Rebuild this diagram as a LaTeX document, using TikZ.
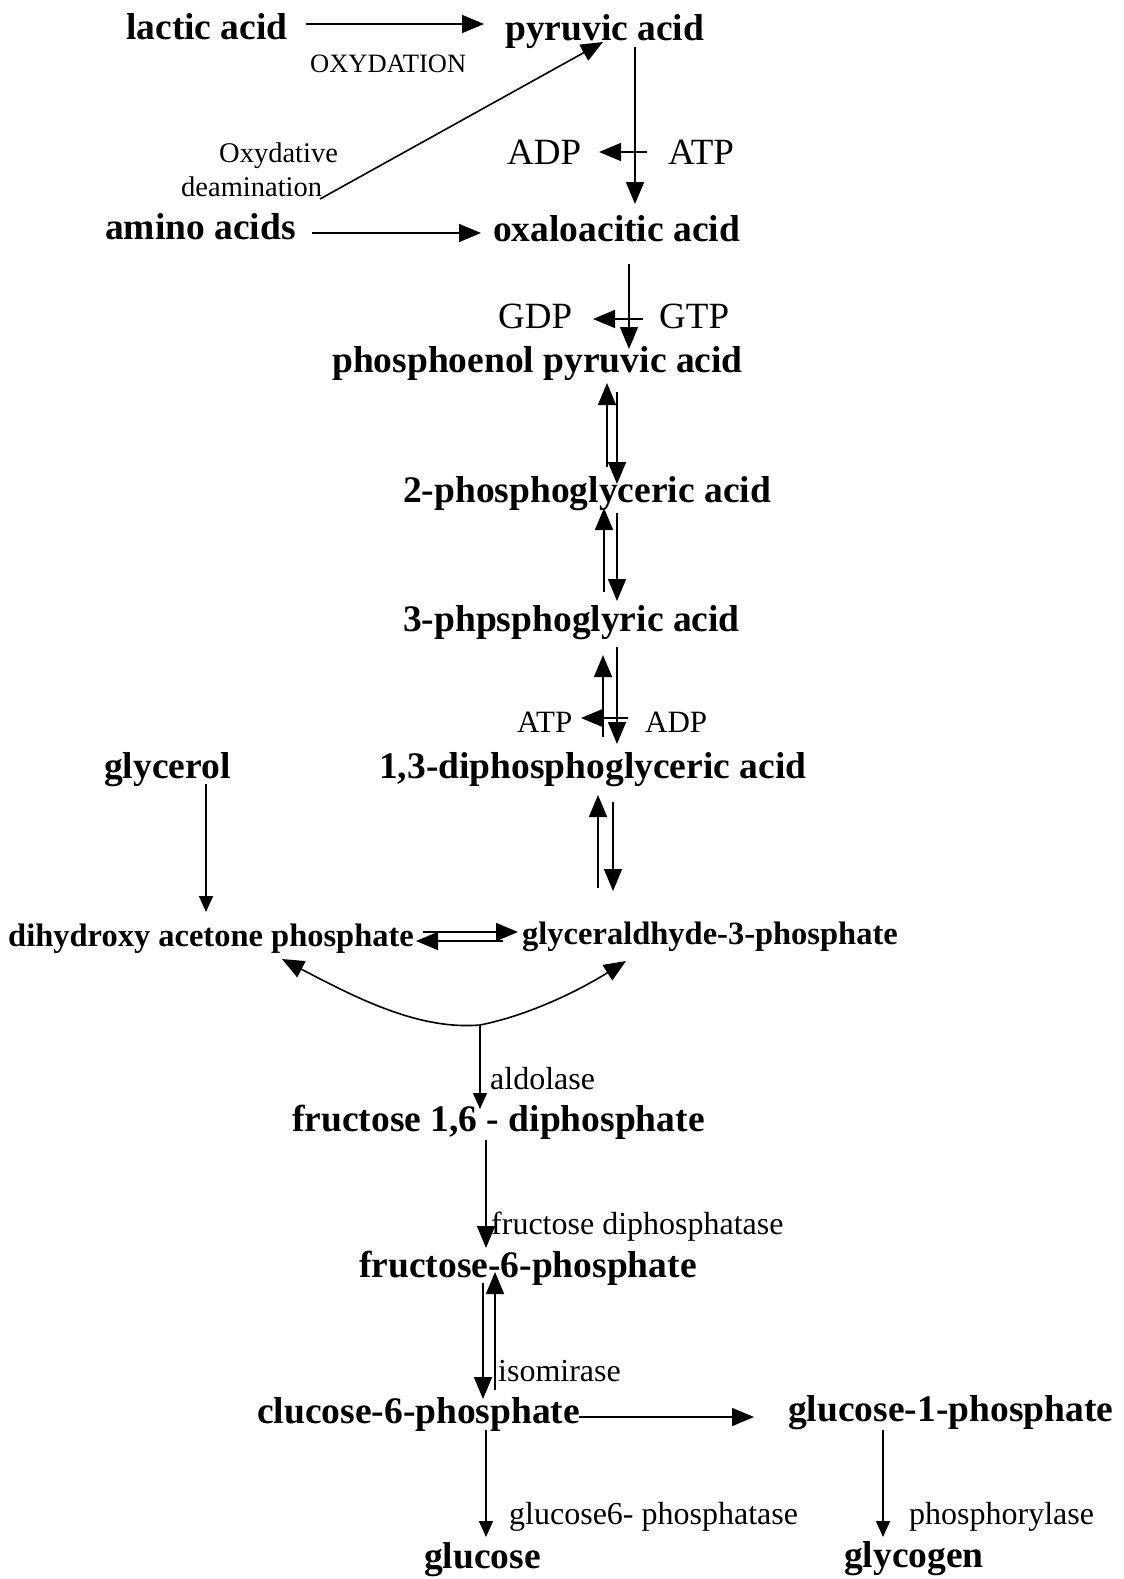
\documentclass[tikz,border=0pt]{standalone}
\usepackage{fontspec}
\setmainfont{Liberation Serif}
\usetikzlibrary{arrows.meta}
\begin{document}
\begin{tikzpicture}[x=1pt,y=-1pt,
  big/.style={inner sep=0pt,anchor=base west,font=\fontsize{37.5}{40}\selectfont\bfseries},
  mid/.style={inner sep=0pt,anchor=base west,font=\fontsize{32.5}{35}\selectfont\bfseries},
  cof/.style={inner sep=0pt,anchor=base west,font=\fontsize{37}{40}\selectfont},
  cofs/.style={inner sep=0pt,anchor=base west,font=\fontsize{31}{34}\selectfont},
  enz/.style={inner sep=0pt,anchor=base west,font=\fontsize{32}{35}\selectfont},
  note/.style={inner sep=0pt,anchor=base west,font=\fontsize{28.5}{31}\selectfont},
  arr/.style={line width=1.6pt,-{Triangle[length=22pt,width=18pt]}},
  sarr/.style={line width=1.5pt,-{Triangle[length=16pt,width=14pt]}},
  ln/.style={line width=1.5pt}]
\useasboundingbox (0,0) rectangle (1124,1579);
\fill[white] (0,0) rectangle (1124,1579);
% texts
\node[big] (lac) at (126,40) {lactic acid};
\node[big] (pyr) at (505,41) {pyruvic acid};
\node[note,font=\fontsize{26.5}{29}\selectfont] (oxy) at (310,73) {OXYDATION};
\node[note] (oxd) at (219,162) {Oxydative};
\node[note] (dea) at (181,196) {deamination};
\node[cof] (adp1) at (507,164) {ADP};
\node[cof] (atp1) at (668,164) {ATP};
\node[big] (ami) at (105,239) {amino acids};
\node[big] (oxa) at (493,241) {oxaloacitic acid};
\node[cof] (gdp) at (498,328) {GDP};
\node[cof] (gtp) at (659,328) {GTP};
\node[big] (pep) at (332,372) {phosphoenol pyruvic acid};
\node[big] (pg2) at (403,502) {2-phosphoglyceric acid};
\node[big] (pg3) at (403,631) {3-phpsphoglyric acid};
\node[cofs] (atp2) at (517,732) {ATP};
\node[cofs] (adp2) at (645,732) {ADP};
\node[big] (gly) at (104,778) {glycerol};
\node[big] (dpg) at (379,778) {1,3-diphosphoglyceric acid};
\node[mid] (dha) at (8,946) {dihydroxy acetone phosphate};
\node[mid] (gap) at (522,944) {glyceraldhyde-3-phosphate};
\node[enz] (ald) at (490,1089) {aldolase};
\node[big] (f16) at (292,1131) {fructose 1,6 - diphosphate};
\node[enz] (fdp) at (491,1234) {fructose diphosphatase};
\node[big] (f6p) at (359,1277) {fructose-6-phosphate};
\node[enz] (iso) at (498,1381) {isomirase};
\node[big] (g6p) at (257,1423) {clucose-6-phosphate};
\node[big] (g1p) at (788,1421) {glucose-1-phosphate};
\node[enz] (g6pase) at (509,1524) {glucose6- phosphatase};
\node[enz] (phos) at (909,1524) {phosphorylase};
\node[big] (glc) at (424,1568) {glucose};
\node[big] (glg) at (844,1567) {glycogen};
% coordinates
\coordinate (lacE) at (306,24); \coordinate (pyrW) at (484,24);
\coordinate (pyrS) at (635,47); \coordinate (oxaN) at (635,204);
\coordinate (atp1W) at (647,152); \coordinate (adp1E) at (599,152);
\coordinate (deaE) at (320,199); \coordinate (pyrSW) at (603,42);
\coordinate (amiE) at (312,233); \coordinate (oxaW) at (481,233);
\coordinate (oxaS) at (629,264); \coordinate (pepN) at (629,349);
\coordinate (gtpW) at (643,319); \coordinate (gdpE) at (593,319);
\coordinate (a1) at (607,467); \coordinate (a2) at (607,383);
\coordinate (a3) at (617,392); \coordinate (a4) at (617,484);
\coordinate (b1) at (604,592); \coordinate (b2) at (604,508);
\coordinate (b3) at (617,513); \coordinate (b4) at (617,601);
\coordinate (c1) at (603,737); \coordinate (c2) at (603,655);
\coordinate (c3) at (617,647); \coordinate (c4) at (617,744);
\coordinate (c5) at (628,718); \coordinate (c6) at (581,718);
\coordinate (d1) at (598,888); \coordinate (d2) at (598,795);
\coordinate (d3) at (613,802); \coordinate (d4) at (613,891);
\coordinate (glyS) at (206,784); \coordinate (dhaN) at (206,912);
\coordinate (e1) at (423,932); \coordinate (e2) at (518,932);
\coordinate (e3) at (503,941); \coordinate (e4) at (416,941);
\coordinate (bot) at (480,1025);
\coordinate (dhaSE) at (282,959); \coordinate (gapSE) at (626,961);
\coordinate (f16N) at (480,1109);
\coordinate (f16S) at (486,1140); \coordinate (f6pN) at (486,1248);
\coordinate (g1) at (483,1283); \coordinate (g2) at (483,1399);
\coordinate (g3) at (495,1390); \coordinate (g4) at (495,1272);
\coordinate (g6pE) at (579,1417); \coordinate (g1pW) at (754,1417);
\coordinate (g6pS) at (486,1430); \coordinate (glcN) at (486,1537);
\coordinate (g1pS) at (883,1430); \coordinate (glgN) at (883,1537);
% arrows
\draw[arr] (lacE) -- (pyrW);
\draw[arr] (pyrS) -- (oxaN);
\draw[arr] (atp1W) -- (adp1E);
\draw[arr] (deaE) -- (pyrSW);
\draw[arr] (amiE) -- (oxaW);
\draw[arr] (oxaS) -- (pepN);
\draw[arr] (gtpW) -- (gdpE);
\draw[arr] (a1) -- (a2); \draw[arr] (a3) -- (a4);
\draw[arr] (b1) -- (b2); \draw[arr] (b3) -- (b4);
\draw[arr] (c1) -- (c2); \draw[arr] (c3) -- (c4);
\draw[arr] (c5) -- (c6);
\draw[arr] (d1) -- (d2); \draw[arr] (d3) -- (d4);
\draw[sarr] (glyS) -- (dhaN);
\draw[arr] (e1) -- (e2); \draw[arr] (e3) -- (e4);
\draw[arr] (bot) .. controls (420,1030) and (360,1000) .. (dhaSE);
\draw[arr] (bot) .. controls (530,1015) and (580,990) .. (gapSE);
\draw[sarr] (bot) -- (f16N);
\draw[arr] (f16S) -- (f6pN);
\draw[arr] (g1) -- (g2); \draw[arr] (g3) -- (g4);
\draw[arr] (g6pE) -- (g1pW);
\draw[sarr] (g6pS) -- (glcN);
\draw[sarr] (g1pS) -- (glgN);
\end{tikzpicture}
\end{document}
